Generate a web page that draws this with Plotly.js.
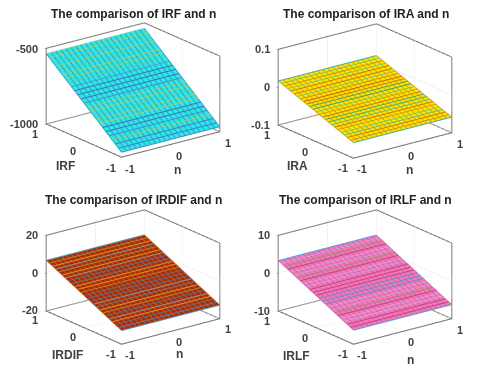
<!DOCTYPE html>
<html>
<head>
<meta charset="utf-8">
<script src="https://cdn.plot.ly/plotly-3.0.1.min.js"></script>
<style>
html, body { margin: 0; padding: 0; background: #fff; }
#chart { width: 480px; height: 380px; filter: blur(0.45px); }
</style>
</head>
<body>
<div id="chart"></div>
<script>
// n axis (columns of the mesh) and the second axis (rows, front to back)
const nVals = [-1,-0.9,-0.8,-0.7,-0.6,-0.5,-0.4,-0.3,-0.2,-0.1,0,0.1,0.2,0.3,0.4,0.5,0.6,0.7,0.8,0.9,1];
const rowVals = [-1,-0.92,-0.83,-0.75,-0.67,-0.58,-0.5,-0.42,-0.33,-0.25,-0.17,-0.08,0,0.08,0.17,0.25,0.33,0.42,0.5,0.58,0.67,0.75,0.83,0.92,1];
const xyTicks = [-1, 0, 1];

// surface height per row
const zIRF = [-970,-952,-934,-916,-898,-880,-862,-844,-827,-809,-791,-773,-755,-737,-719,-701,-683,-665,-648,-630,-612,-594,-576,-558,-540];
const zIRA = [-0.06,-0.057,-0.054,-0.051,-0.048,-0.044,-0.041,-0.038,-0.035,-0.032,-0.029,-0.026,-0.023,-0.019,-0.016,-0.013,-0.01,-0.007,-0.004,-0.001,0.003,0.006,0.009,0.012,0.015];
const zIRDIF = [-13,-12.2,-11.4,-10.6,-9.8,-8.9,-8.1,-7.3,-6.5,-5.7,-4.9,-4.1,-3.3,-2.4,-1.6,-0.8,0,0.8,1.6,2.4,3.3,4.1,4.9,5.7,6.5];
const zIRLF = [-6.4,-6,-5.6,-5.2,-4.8,-4.4,-4,-3.6,-3.2,-2.8,-2.4,-2,-1.6,-1.2,-0.8,-0.4,0,0.4,0.8,1.2,1.6,2,2.4,2.8,3.2];

// z axis ranges and ticks
const rangeIRF = [-1000, -500], ticksIRF = [-1000, -500];
const rangeIRA = [-0.1, 0.1], ticksIRA = [-0.1, 0, 0.1];
const rangeIRDIF = [-20, 20], ticksIRDIF = [-20, 0, 20];
const rangeIRLF = [-10, 10], ticksIRLF = [-10, 0, 10];

// line colour of every row, front to back
const linesIRF = ['#3f8fd8','#3f7fc8','#3f7fc8','#b0c850','#4090c8','#4070b8','#4070b8','#a8d060','#a8d060','#60d0b0','#a8d060','#a8d060','#4f90c8','#4070b8','#4070b8','#4070b8','#4f9fc8','#60d0b0','#a8d060','#a8d060','#60d0b0','#a8d060','#60d0b0','#a8d060','#60d8b0'];
const linesIRA = ['#40b0a0','#d09020','#c87810','#60c080','#70d070','#d0a010','#c87810','#60c080','#40b070','#40b070','#c87810','#d0a010','#70d070','#40a070','#40a070','#c87810','#c06010','#d09010','#70d070','#c87810','#c87810','#70d070','#d09010','#70d070','#40b0a0'];
const linesIRDIF = ['#4090b0','#6080a0','#507090','#e09820','#80a0a0','#507090','#a09030','#e09820','#508098','#80a0a0','#507090','#507090','#507090','#c08010','#e09820','#e09820','#508098','#507090','#80a0a0','#e09820','#a09030','#80a0a0','#e09820','#a09030','#4090b0'];
const linesIRLF = ['#50a0e0','#c84088','#c84088','#d8a8e8','#d8a0e8','#c84088','#a09068','#c8a0e8','#d8a0e8','#6090d8','#6090d8','#6090d8','#c84088','#c84088','#c84088','#c8a0e8','#d8a0e8','#c84088','#a09068','#c8a0e8','#d8a0e8','#c84088','#a09068','#c8a0e8','#50a0e0'];

const faceIRF = '#2ee6e6', faceIRA = '#ffe400', faceIRDIF = '#a82a10', faceIRLF = '#f478b4';

// dom is the scene box in pixels: x0, x1, top, bottom
const panels = [
  { id: 'scene',  label: 'IRF',   z: zIRF,   range: rangeIRF,   ticks: ticksIRF,   lines: linesIRF,   cols: '#2a8ec0', face: faceIRF,   dom: [23, 243, 1.5, 179.5], title: [133, 14],  yShift: [-18, 25], nShift: [7, 25] },
  { id: 'scene2', label: 'IRA',   z: zIRA,   range: rangeIRA,   ticks: ticksIRA,   lines: linesIRA,   cols: '#c89a10', face: faceIRA,   dom: [255, 475, 2, 180],    title: [366, 14],  yShift: [-18, 24], nShift: [7, 25] },
  { id: 'scene3', label: 'IRDIF', z: zIRDIF, range: rangeIRDIF, ticks: ticksIRDIF, lines: linesIRDIF, cols: '#c8640f', face: faceIRDIF, dom: [23, 243, 187.5, 365.5], title: [133, 200], yShift: [-16, 28], nShift: [9, 23] },
  { id: 'scene4', label: 'IRLF',  z: zIRLF,  range: rangeIRLF,  ticks: ticksIRLF,  lines: linesIRLF,  cols: '#c860a8', face: faceIRLF,  dom: [255, 475, 188, 366],  title: [365, 200], yShift: [-19, 28], nShift: [8, 29] }
];

let traces = [];
let layout = {
  width: 480, height: 380,
  margin: { l: 0, r: 0, t: 0, b: 0 },
  paper_bgcolor: '#fff',
  showlegend: false,
  annotations: []
};

function axisStyle(vals, range) {
  return {
    title: { text: '' },
    range: range,
    tickvals: vals,
    showticklabels: false,
    showgrid: true, gridcolor: '#e4e4e4', gridwidth: 1,
    showbackground: false, showspikes: false, zeroline: false,
    showline: false, ticks: 'outside', ticklen: 2, tickcolor: '#666'
  };
}

// text pinned to a 3D position, so it follows the axes
function sceneText(text, x, y, z, shift, anchor, size) {
  return {
    text: '<b>' + text + '</b>', x: x, y: y, z: z,
    showarrow: false, xshift: shift[0], yshift: -shift[1], xanchor: anchor, yanchor: 'middle',
    font: { family: 'Liberation Sans', size: size, color: '#404040' }
  };
}

panels.forEach(function (p) {
  let r0 = [-1.0, 1.0], zr = p.range;
  // mesh lines sit a hair above the faces so they don't z-fight
  let lift = (zr[1] - zr[0]) * 0.006;

  traces.push({
    type: 'surface', scene: p.id, x: nVals, y: rowVals,
    z: rowVals.map((_, i) => nVals.map(() => p.z[i])),
    showscale: false, hoverinfo: 'skip',
    colorscale: [[0, p.face], [1, p.face]],
    lighting: { ambient: 1, diffuse: 0, specular: 0, roughness: 1, fresnel: 0 }
  });

  // column lines
  let cx = [], cy = [], cz = [];
  nVals.forEach(function (n) {
    cx.push(n, n, null);
    cy.push(rowVals[0], rowVals[rowVals.length - 1], null);
    cz.push(p.z[0] + lift, p.z[p.z.length - 1] + lift, null);
  });
  traces.push({ type: 'scatter3d', scene: p.id, mode: 'lines', hoverinfo: 'skip',
    x: cx, y: cy, z: cz, line: { color: p.cols, width: 1.5 } });

  // row lines grouped by colour
  let byColour = {};
  rowVals.forEach(function (y, i) {
    let c = p.lines[i];
    if (!byColour[c]) byColour[c] = { x: [], y: [], z: [] };
    byColour[c].x.push(nVals[0], nVals[nVals.length - 1], null);
    byColour[c].y.push(y, y, null);
    byColour[c].z.push(p.z[i] + lift, p.z[i] + lift, null);
  });
  Object.keys(byColour).forEach(function (c) {
    traces.push({ type: 'scatter3d', scene: p.id, mode: 'lines', hoverinfo: 'skip',
      x: byColour[c].x, y: byColour[c].y, z: byColour[c].z,
      line: { color: c, width: 2 } });
  });

  // plot box, back and bottom edges as MATLAB leaves them
  let bx = [r0[0], r0[0], r0[1], r0[1], r0[1], null, r0[0], r0[0], r0[1], r0[1], null, r0[0], r0[1], r0[1]];
  let by = [r0[0], r0[1], r0[1], r0[0], r0[0], null, r0[1], r0[1], r0[1], r0[0], null, r0[0], r0[0], r0[1]];
  let bz = [zr[0], zr[0], zr[0], zr[0], zr[1], null, zr[0], zr[1], zr[1], zr[1], null, zr[0], zr[0], zr[0]];
  traces.push({ type: 'scatter3d', scene: p.id, mode: 'lines', hoverinfo: 'skip',
    x: bx, y: by, z: bz, line: { color: '#555', width: 2 } });

  let notes = [];
  xyTicks.forEach(function (t) {
    notes.push(sceneText(String(t), t, -1, zr[0], [8, 11], 'center', 11));
    notes.push(sceneText(String(t), -1, t, zr[0], [-11, 10], 'center', 11));
  });
  p.ticks.forEach(function (t) {
    notes.push(sceneText(String(t), -1, 1, t, [-6, 0], 'right', 11));
  });
  notes.push(sceneText('n', 0, -1, zr[0], p.nShift, 'center', 12));
  notes.push(sceneText(p.label, -1, 0, zr[0], p.yShift, 'center', 12));

  layout[p.id] = {
    domain: { x: [p.dom[0] / 480, p.dom[1] / 480], y: [1 - p.dom[3] / 380, 1 - p.dom[2] / 380] },
    aspectmode: 'manual',
    aspectratio: { x: 1.39, y: 1.39, z: 0.904 },
    camera: {
      projection: { type: 'orthographic' },
      eye: { x: -1.15, y: -1.5, z: 0.68 },
      up: { x: 0, y: 0, z: 1 },
      center: { x: 0, y: 0, z: 0 }
    },
    xaxis: axisStyle(xyTicks, r0),
    yaxis: axisStyle(xyTicks, r0),
    zaxis: axisStyle(p.ticks, p.range),
    annotations: notes
  };

  layout.annotations.push({
    text: '<b>The comparison of ' + p.label + ' and n</b>',
    xref: 'paper', yref: 'paper', x: p.title[0] / 480, y: 1 - p.title[1] / 380,
    xanchor: 'center', yanchor: 'middle', showarrow: false,
    font: { family: 'Liberation Sans', size: 12, color: '#222' }
  });
});

Plotly.newPlot('chart', traces, layout, { displayModeBar: false });
</script>
</body>
</html>
